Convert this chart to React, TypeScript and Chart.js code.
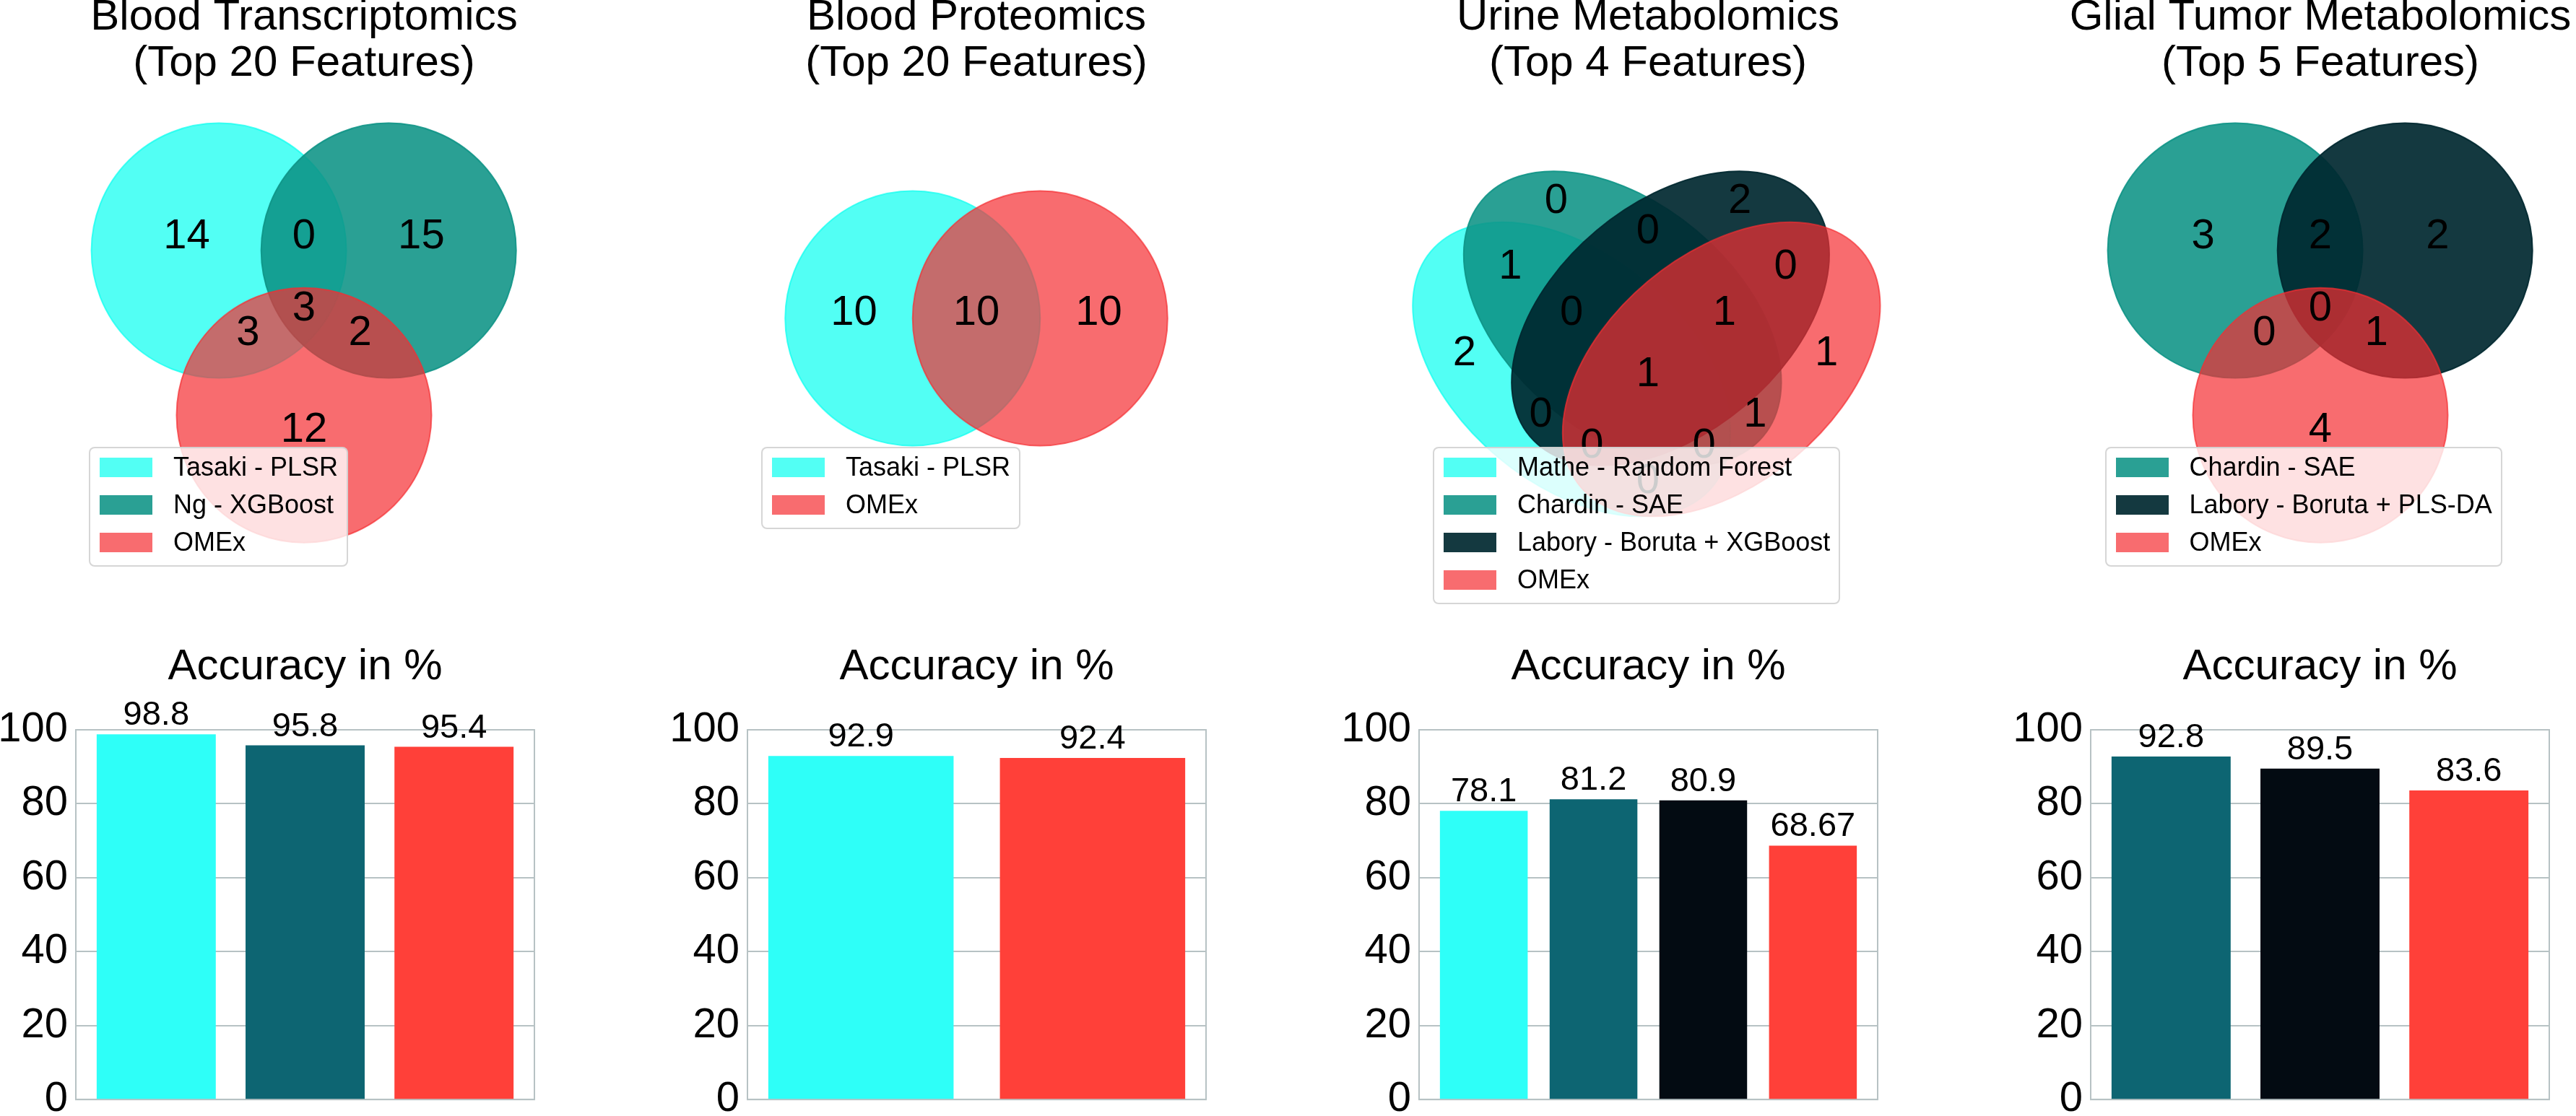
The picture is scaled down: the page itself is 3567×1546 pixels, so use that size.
import React, { useEffect, useRef } from "react";
import { Chart, registerables } from "chart.js";

Chart.register(...registerables);

const FONT = "'Liberation Sans', Arial, Helvetica, sans-serif";

// ---------------- data ----------------
const TRANSCRIPTOMICS_TITLE = ["Blood Transcriptomics", "(Top 20 Features)"];
const TRANSCRIPTOMICS_SETS = ["Tasaki - PLSR", "Ng - XGBoost", "OMEx"];
const TRANSCRIPTOMICS_REGIONS = ["100", "010", "001", "110", "101", "011", "111"];
const TRANSCRIPTOMICS_COUNTS = [14, 15, 12, 0, 3, 2, 3];
const TRANSCRIPTOMICS_ACCURACY = [98.8, 95.8, 95.4];

const PROTEOMICS_TITLE = ["Blood Proteomics", "(Top 20 Features)"];
const PROTEOMICS_SETS = ["Tasaki - PLSR", "OMEx"];
const PROTEOMICS_REGIONS = ["10", "01", "11"];
const PROTEOMICS_COUNTS = [10, 10, 10];
const PROTEOMICS_ACCURACY = [92.9, 92.4];

const URINE_TITLE = ["Urine Metabolomics", "(Top 4 Features)"];
const URINE_SETS = ["Mathe - Random Forest", "Chardin - SAE", "Labory - Boruta + XGBoost", "OMEx"];
const URINE_REGIONS = ["1000", "0100", "0010", "0001", "1100", "0110", "0011", "1110", "0111", "1111", "1010", "0101", "1011", "1101", "1001"];
const URINE_COUNTS = [2, 0, 2, 1, 1, 0, 0, 0, 1, 1, 0, 1, 0, 0, 0];
const URINE_ACCURACY = [78.1, 81.2, 80.9, 68.67];

const GLIAL_TITLE = ["Glial Tumor Metabolomics", "(Top 5 Features)"];
const GLIAL_SETS = ["Chardin - SAE", "Labory - Boruta + PLS-DA", "OMEx"];
const GLIAL_REGIONS = ["100", "010", "001", "110", "101", "011", "111"];
const GLIAL_COUNTS = [3, 2, 4, 2, 0, 1, 0];
const GLIAL_ACCURACY = [92.8, 89.5, 83.6];

const BAR_TITLE = "Accuracy in %";
const Y_TICKS = [0, 20, 40, 60, 80, 100];

// ---------------- colours ----------------
const VENN_CYAN = "rgba(8,255,240,0.7)";
const VENN_TEAL = "rgba(13,147,133,0.88)";
const VENN_DARK = "rgba(0,40,48,0.92)";
const VENN_RED = "rgba(245,45,50,0.7)";

const BAR_CYAN = "#2efff8";
const BAR_TEAL = "#0d6572";
const BAR_BLACK = "#030b12";
const BAR_RED = "#ff4039";
const GRID_COLOR = "#b7c2c4";

// ---------------- venn geometry (unit square, as in the "venn" package) ----------------
const SHAPE_COORDS: Record<number, number[][]> = {
  2: [[0.375, 0.5], [0.625, 0.5]],
  3: [[0.333, 0.633], [0.666, 0.633], [0.5, 0.31]],
  4: [[0.35, 0.4], [0.45, 0.5], [0.544, 0.5], [0.644, 0.4]],
};
const SHAPE_DIMS: Record<number, number[][]> = {
  2: [[0.5, 0.5], [0.5, 0.5]],
  3: [[0.5, 0.5], [0.5, 0.5], [0.5, 0.5]],
  4: [[0.72, 0.45], [0.72, 0.45], [0.72, 0.45], [0.72, 0.45]],
};
const SHAPE_ANGLES: Record<number, number[]> = {
  2: [0, 0],
  3: [0, 0, 0],
  4: [140, 140, 40, 40],
};
const PETAL_LABEL_COORDS: Record<number, Record<string, number[]>> = {
  2: { "10": [0.26, 0.5], "01": [0.74, 0.5], "11": [0.5, 0.5] },
  3: {
    "001": [0.5, 0.27], "010": [0.73, 0.65], "011": [0.61, 0.46], "100": [0.27, 0.65],
    "101": [0.39, 0.46], "110": [0.5, 0.65], "111": [0.5, 0.508],
  },
  4: {
    "0001": [0.85, 0.42], "0010": [0.68, 0.72], "0011": [0.77, 0.59], "0100": [0.32, 0.72],
    "0101": [0.71, 0.3], "0110": [0.5, 0.66], "0111": [0.65, 0.5], "1000": [0.14, 0.42],
    "1001": [0.5, 0.17], "1010": [0.29, 0.3], "1011": [0.39, 0.24], "1100": [0.23, 0.59],
    "1101": [0.61, 0.24], "1110": [0.35, 0.5], "1111": [0.5, 0.38],
  },
};

// ---------------- layout ----------------
const UNIT = 706;
const VENN_Y0 = 794;
const VENN_W = 930;
const VENN_TOP = -8;
const VENN_H = 868;
const VENN_TITLE_LINE = 64;
const VENN_TITLE_SIZE = 60;
const LEGEND_TOP = 619;

const BAR_AXIS_W = 105;
const BAR_PLOT_W = 635;
const BAR_TOP = 888;
const BAR_H = 681;

type VennProps = {
  title: string[];
  sets: string[];
  colors: string[];
  regions: string[];
  counts: number[];
  x0: number;
};

function VennPanel({ title, sets, colors, regions, counts, x0 }: VennProps) {
  const ref = useRef<HTMLCanvasElement>(null);
  const left = x0 + 0.5 * UNIT - VENN_W / 2;

  useEffect(() => {
    const n = sets.length;
    const xMin = (left - x0) / UNIT;
    const xMax = xMin + VENN_W / UNIT;
    const areaTop = VENN_TOP + 2 * VENN_TITLE_LINE;
    const yMax = (VENN_Y0 - areaTop) / UNIT;
    const yMin = yMax - (VENN_TOP + VENN_H - areaTop) / UNIT;
    const labelCoords = regions.map((r) => PETAL_LABEL_COORDS[n][r]);

    const vennPlugin = {
      id: "vennShapes",
      beforeDatasetsDraw(chart: any) {
        const ctx = chart.ctx;
        const xs = chart.scales.x;
        const ys = chart.scales.y;
        SHAPE_COORDS[n].forEach(([cx, cy], i) => {
          const [w, h] = SHAPE_DIMS[n][i];
          const ang = SHAPE_ANGLES[n][i];
          const px = xs.getPixelForValue(cx);
          const py = ys.getPixelForValue(cy);
          const rx = Math.abs(xs.getPixelForValue(cx + w / 2) - px);
          const ry = Math.abs(ys.getPixelForValue(cy + h / 2) - py);
          ctx.save();
          ctx.beginPath();
          ctx.ellipse(px, py, rx, ry, (-ang * Math.PI) / 180, 0, Math.PI * 2);
          ctx.fillStyle = colors[i];
          ctx.fill();
          ctx.lineWidth = 2;
          ctx.strokeStyle = colors[i];
          ctx.stroke();
          ctx.restore();
        });
      },
      afterDatasetsDraw(chart: any) {
        const ctx = chart.ctx;
        const meta = chart.getDatasetMeta(0);
        ctx.save();
        ctx.font = `58px ${FONT}`;
        ctx.fillStyle = "#000";
        ctx.textAlign = "center";
        ctx.textBaseline = "middle";
        meta.data.forEach((el: any, i: number) => {
          ctx.fillText(String(counts[i]), el.x, el.y - 7);
        });
        ctx.restore();
      },
    };

    const chart = new Chart(ref.current as HTMLCanvasElement, {
      type: "scatter",
      data: {
        datasets: [
          {
            data: labelCoords.map(([x, y]) => ({ x, y })),
            pointRadius: 0,
            pointHoverRadius: 0,
          },
        ],
      },
      options: {
        animation: false,
        responsive: false,
        maintainAspectRatio: false,
        events: [],
        layout: { padding: 0 },
        plugins: {
          legend: { display: false },
          tooltip: { enabled: false },
          title: {
            display: true,
            text: title,
            color: "#000",
            font: { family: FONT, size: VENN_TITLE_SIZE, weight: "normal", lineHeight: VENN_TITLE_LINE / VENN_TITLE_SIZE },
            padding: { top: 0, bottom: 0 },
          },
        },
        scales: {
          x: { type: "linear", display: false, min: xMin, max: xMax, bounds: "data" },
          y: { type: "linear", display: false, min: yMin, max: yMax, bounds: "data" },
        },
      } as any,
      plugins: [vennPlugin],
    });
    return () => chart.destroy();
  }, []);

  return (
    <>
      <canvas
        ref={ref}
        width={VENN_W}
        height={VENN_H}
        style={{ position: "absolute", left, top: VENN_TOP, width: VENN_W, height: VENN_H }}
      />
      <div
        style={{
          position: "absolute",
          left: x0 + 55,
          top: LEGEND_TOP,
          background: "rgba(255,255,255,0.8)",
          border: "2px solid rgba(204,204,204,0.8)",
          borderRadius: 8,
          padding: "0px 12px 6px 13px",
        }}
      >
        {sets.map((s, i) => (
          <div key={s} style={{ display: "flex", alignItems: "center", height: 52 }}>
            <span style={{ display: "inline-block", width: 73, height: 27, background: colors[i] }} />
            <span style={{ marginLeft: 29, font: `36px ${FONT}`, color: "#000", whiteSpace: "nowrap", lineHeight: "52px" }}>
              {s}
            </span>
          </div>
        ))}
      </div>
    </>
  );
}

type BarProps = { values: number[]; colors: string[]; plotLeft: number };

function BarPanel({ values, colors, plotLeft }: BarProps) {
  const ref = useRef<HTMLCanvasElement>(null);
  const width = BAR_AXIS_W * 2 + BAR_PLOT_W;

  useEffect(() => {
    const n = values.length;
    const lo = -0.4;
    const hi = n - 1 + 0.4;
    const m = 0.05 * (hi - lo);

    const framePlugin = {
      id: "frameAndLabels",
      beforeDatasetsDraw(chart: any) {
        const { left, top, right, bottom } = chart.chartArea;
        const ctx = chart.ctx;
        ctx.save();
        ctx.strokeStyle = GRID_COLOR;
        ctx.lineWidth = 2;
        ctx.strokeRect(left, top, right - left, bottom - top);
        ctx.restore();
      },
      afterDatasetsDraw(chart: any) {
        const ctx = chart.ctx;
        const meta = chart.getDatasetMeta(0);
        ctx.save();
        ctx.font = `47px ${FONT}`;
        ctx.fillStyle = "#000";
        ctx.textAlign = "center";
        ctx.textBaseline = "alphabetic";
        meta.data.forEach((bar: any, i: number) => {
          ctx.fillText(String(values[i]), bar.x, bar.y - 13);
        });
        ctx.restore();
      },
    };

    const chart = new Chart(ref.current as HTMLCanvasElement, {
      type: "bar",
      data: {
        datasets: [
          {
            data: values.map((v, i) => ({ x: i, y: v })),
            backgroundColor: colors,
            borderWidth: 0,
            barPercentage: 0.8,
            categoryPercentage: 1,
          },
        ],
      },
      options: {
        animation: false,
        responsive: false,
        maintainAspectRatio: false,
        events: [],
        layout: { padding: 0 },
        plugins: {
          legend: { display: false },
          tooltip: { enabled: false },
          title: {
            display: true,
            text: BAR_TITLE,
            color: "#000",
            font: { family: FONT, size: 60, weight: "normal", lineHeight: 1.2 },
            padding: { top: 0, bottom: 51 },
          },
        },
        scales: {
          x: {
            type: "linear",
            display: false,
            min: lo - m,
            max: hi + m,
            offset: false,
            bounds: "data",
            afterBuildTicks: (s: any) => {
              s.ticks = values.map((_, i) => ({ value: i }));
            },
          },
          y: {
            type: "linear",
            position: "left",
            min: 0,
            max: 100,
            afterBuildTicks: (s: any) => {
              s.ticks = Y_TICKS.map((v) => ({ value: v }));
            },
            afterFit: (s: any) => {
              s.width = BAR_AXIS_W;
            },
            ticks: { color: "#000", font: { family: FONT, size: 58 }, padding: 11 },
            grid: { color: GRID_COLOR, lineWidth: 2, drawTicks: false },
            border: { display: false },
          },
          y2: {
            type: "linear",
            position: "right",
            display: true,
            ticks: { display: false },
            grid: { display: false, drawTicks: false },
            border: { display: false },
            afterFit: (s: any) => {
              s.width = BAR_AXIS_W;
            },
          },
        },
      } as any,
      plugins: [framePlugin],
    });
    return () => chart.destroy();
  }, []);

  return (
    <canvas
      ref={ref}
      width={width}
      height={BAR_H}
      style={{ position: "absolute", left: plotLeft - BAR_AXIS_W, top: BAR_TOP, width, height: BAR_H }}
    />
  );
}

export default function App() {
  return (
    <div
      style={{
        position: "absolute",
        left: 0,
        top: 0,
        width: 3567,
        height: 1546,
        overflow: "hidden",
        background: "#ffffff",
      }}
    >
      <VennPanel
        title={TRANSCRIPTOMICS_TITLE}
        sets={TRANSCRIPTOMICS_SETS}
        colors={[VENN_CYAN, VENN_TEAL, VENN_RED]}
        regions={TRANSCRIPTOMICS_REGIONS}
        counts={TRANSCRIPTOMICS_COUNTS}
        x0={68}
      />
      <VennPanel
        title={PROTEOMICS_TITLE}
        sets={PROTEOMICS_SETS}
        colors={[VENN_CYAN, VENN_RED]}
        regions={PROTEOMICS_REGIONS}
        counts={PROTEOMICS_COUNTS}
        x0={999}
      />
      <VennPanel
        title={URINE_TITLE}
        sets={URINE_SETS}
        colors={[VENN_CYAN, VENN_TEAL, VENN_DARK, VENN_RED]}
        regions={URINE_REGIONS}
        counts={URINE_COUNTS}
        x0={1929}
      />
      <VennPanel
        title={GLIAL_TITLE}
        sets={GLIAL_SETS}
        colors={[VENN_TEAL, VENN_DARK, VENN_RED]}
        regions={GLIAL_REGIONS}
        counts={GLIAL_COUNTS}
        x0={2859.5}
      />
      <BarPanel values={TRANSCRIPTOMICS_ACCURACY} colors={[BAR_CYAN, BAR_TEAL, BAR_RED]} plotLeft={105} />
      <BarPanel values={PROTEOMICS_ACCURACY} colors={[BAR_CYAN, BAR_RED]} plotLeft={1035} />
      <BarPanel values={URINE_ACCURACY} colors={[BAR_CYAN, BAR_TEAL, BAR_BLACK, BAR_RED]} plotLeft={1965} />
      <BarPanel values={GLIAL_ACCURACY} colors={[BAR_TEAL, BAR_BLACK, BAR_RED]} plotLeft={2895} />
    </div>
  );
}
